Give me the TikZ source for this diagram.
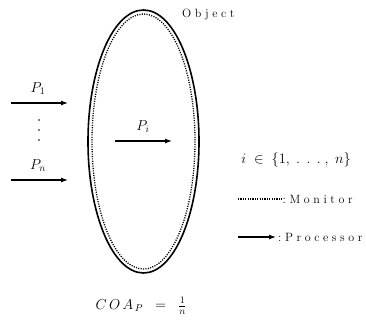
\documentclass[tikz,border=0pt]{standalone}
\usepackage{fontspec}
\usepackage{tikz}
\usetikzlibrary{arrows.meta}
% spread the letters of a word apart
\def\spc#1{\spcloop#1\relax}
\def\spcloop#1{\ifx#1\relax\else#1\kern0.3em\expandafter\spcloop\fi}

\begin{document}
\begin{tikzpicture}[x=1pt,y=-1pt,font=\Large,
  proc/.style={line width=1.2pt,-{Latex[length=7pt,width=5pt]}},
  monitor/.style={line width=1.3pt,dash pattern=on 1.1pt off 1.3pt},
  lbl/.style={inner sep=0pt},
  txt/.style={inner sep=0pt,font=\large}]
  \useasboundingbox (0,0) rectangle (366,320);
  % the object: solid outline, monitor dotted inside
  \draw[line width=1.6pt] (143.5,141.5) ellipse [x radius=55.5, y radius=131.5];
  \draw[monitor] (143.5,141.5) ellipse [x radius=51.5, y radius=127.5];
  \node[txt,anchor=west] (obj) at (182,15) {\spc{Object}};
  % incoming processors
  \coordinate (p1s) at (11,103);  \coordinate (p1e) at (68,103);
  \coordinate (pns) at (11,180);  \coordinate (pne) at (68,180);
  \coordinate (pis) at (115,141); \coordinate (pie) at (172,141);
  \draw[proc] (p1s) -- (p1e);
  \draw[proc] (pns) -- (pne);
  \draw[proc] (pis) -- (pie);
  \node[lbl] (p1) at (38,89) {$P_1$};
  \node[lbl] (pn) at (38,166) {$P_n$};
  \node[lbl] (pi) at (143,127) {$P_i$};
  \foreach \y in {120,130,140}
    \fill (39,\y) circle (0.95);
  % legend
  \node[lbl] (idx) at (296,160) {$i\;\in\;\{1,\;.\;\,.\;\,.\;,\;n\}$};
  \coordinate (ms) at (238,199); \coordinate (me) at (282,199);
  \draw[monitor] (ms) -- (me);
  \node[txt,anchor=west] (mon) at (282.5,199) {\spc{:}\spc{Monitor}};
  \coordinate (ps) at (238,237); \coordinate (pe) at (276,237);
  \draw[proc] (ps) -- (pe);
  \node[txt,anchor=west] (pro) at (278,237) {\spc{:}\spc{Processor}};
  \node[lbl] (coa) at (141,306) {$C\,O\,A_{\,P}\;\;=\;\;\frac{1}{n}$};
\end{tikzpicture}
\end{document}
